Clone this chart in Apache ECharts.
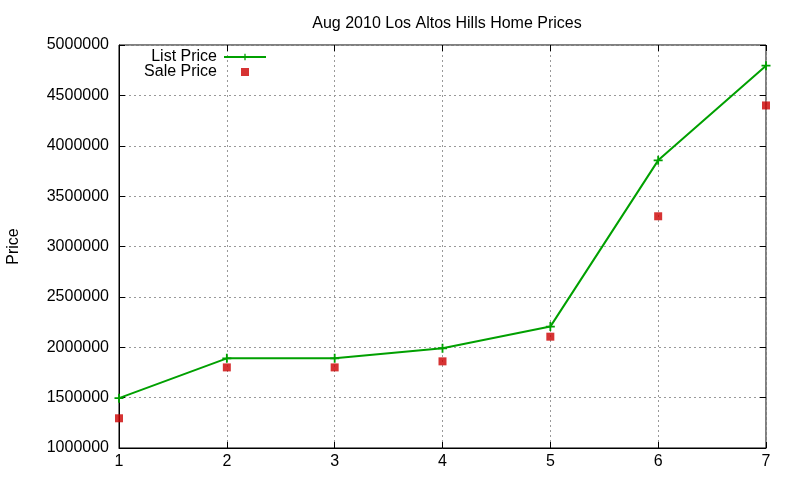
<!DOCTYPE html>
<html><head><meta charset="utf-8">
<script src="https://cdn.jsdelivr.net/npm/echarts@6/dist/echarts.min.js"></script>
<style>html,body{margin:0;padding:0;background:#fff}#c{width:800px;height:480px}</style>
</head><body><div id="c"></div>
<script>
const xValues = [1, 2, 3, 4, 5, 6, 7];
const listPrice = [1495000, 1890000, 1890000, 1990000, 2205000, 3855000, 4795000];
const salePrice = [1295000, 1800000, 1800000, 1860000, 2105000, 3300000, 4400000];
const yTicks = [1000000, 1500000, 2000000, 2500000, 3000000, 3500000, 4000000, 4500000, 5000000];
const titleText = 'Aug 2010 Los Altos Hills Home Prices';

const FONT = 'Liberation Sans';
const plus = 'path://M4,0H6V4H10V6H6V10H4V6H0V4H4Z';
const square = 'path://M0,0H10V10H0Z';
const chart = echarts.init(document.getElementById('c'), null, {renderer: 'canvas'});
const gridLine = {show: true, lineStyle: {color: '#999', type: [2, 3], width: 1}};
chart.setOption({
  animation: false,
  backgroundColor: '#fff',
  textStyle: {fontFamily: FONT},
  title: {text: titleText, left: 442, textAlign: 'center', top: 11,
    textStyle: {fontFamily: FONT, fontSize: 16, fontWeight: 'normal', color: '#000'}},
  legend: {
    orient: 'vertical', right: 533, top: 49, align: 'right', itemGap: -1,
    itemWidth: 42, itemHeight: 8, padding: 0,
    textStyle: {fontFamily: FONT, fontSize: 16, color: '#000', lineHeight: 14, padding: [0, 2, 0, 0]},
    data: [
      {name: 'List Price'},
      {name: 'Sale Price', icon: square}
    ]
  },
  grid: {left: 119, right: 34, top: 45, bottom: 32, show: true, borderColor: '#000', borderWidth: 1,
    outerBoundsMode: 'none', containLabel: false},
  xAxis: [{
    type: 'value', min: 1, max: 7, interval: 1,
    axisLine: {show: true, onZero: false, lineStyle: {color: '#000'}},
    axisTick: {show: true, inside: true, length: 6, lineStyle: {color: '#000'}},
    axisLabel: {fontFamily: FONT, fontSize: 16, color: '#000', margin: 6},
    splitLine: gridLine
  }, {
    type: 'value', min: 1, max: 7, interval: 1, position: 'top',
    axisLine: {show: false},
    axisTick: {show: true, inside: true, length: 6, lineStyle: {color: '#000'}},
    axisLabel: {show: false}, splitLine: {show: false}
  }],
  yAxis: [{
    type: 'value', min: 1000000, max: 5000000, interval: 500000,
    name: 'Price', nameLocation: 'middle', nameGap: 97, nameRotate: 90,
    nameTextStyle: {fontFamily: FONT, fontSize: 16, color: '#000'},
    axisLine: {show: true, lineStyle: {color: '#000'}},
    axisTick: {show: true, inside: true, length: 6, lineStyle: {color: '#000'}},
    axisLabel: {fontFamily: FONT, fontSize: 16, color: '#000', margin: 10,
      formatter: v => String(v)},
    splitLine: gridLine
  }, {
    type: 'value', min: 1000000, max: 5000000, interval: 500000, position: 'right',
    axisLine: {show: false},
    axisTick: {show: true, inside: true, length: 6, lineStyle: {color: '#000'}},
    axisLabel: {show: false}, splitLine: {show: false}
  }],
  series: [{
    name: 'List Price', type: 'line',
    data: xValues.map((x, i) => [x, listPrice[i]]),
    symbol: plus, symbolSize: 9,
    lineStyle: {color: '#00a000', width: 2},
    itemStyle: {color: '#00a000'},
    clip: false
  }, {
    name: 'Sale Price', type: 'scatter',
    data: xValues.map((x, i) => [x, salePrice[i]]),
    symbol: 'rect', symbolSize: 8,
    itemStyle: {color: '#cc0000'},
    clip: false
  }]
});
</script></body></html>
